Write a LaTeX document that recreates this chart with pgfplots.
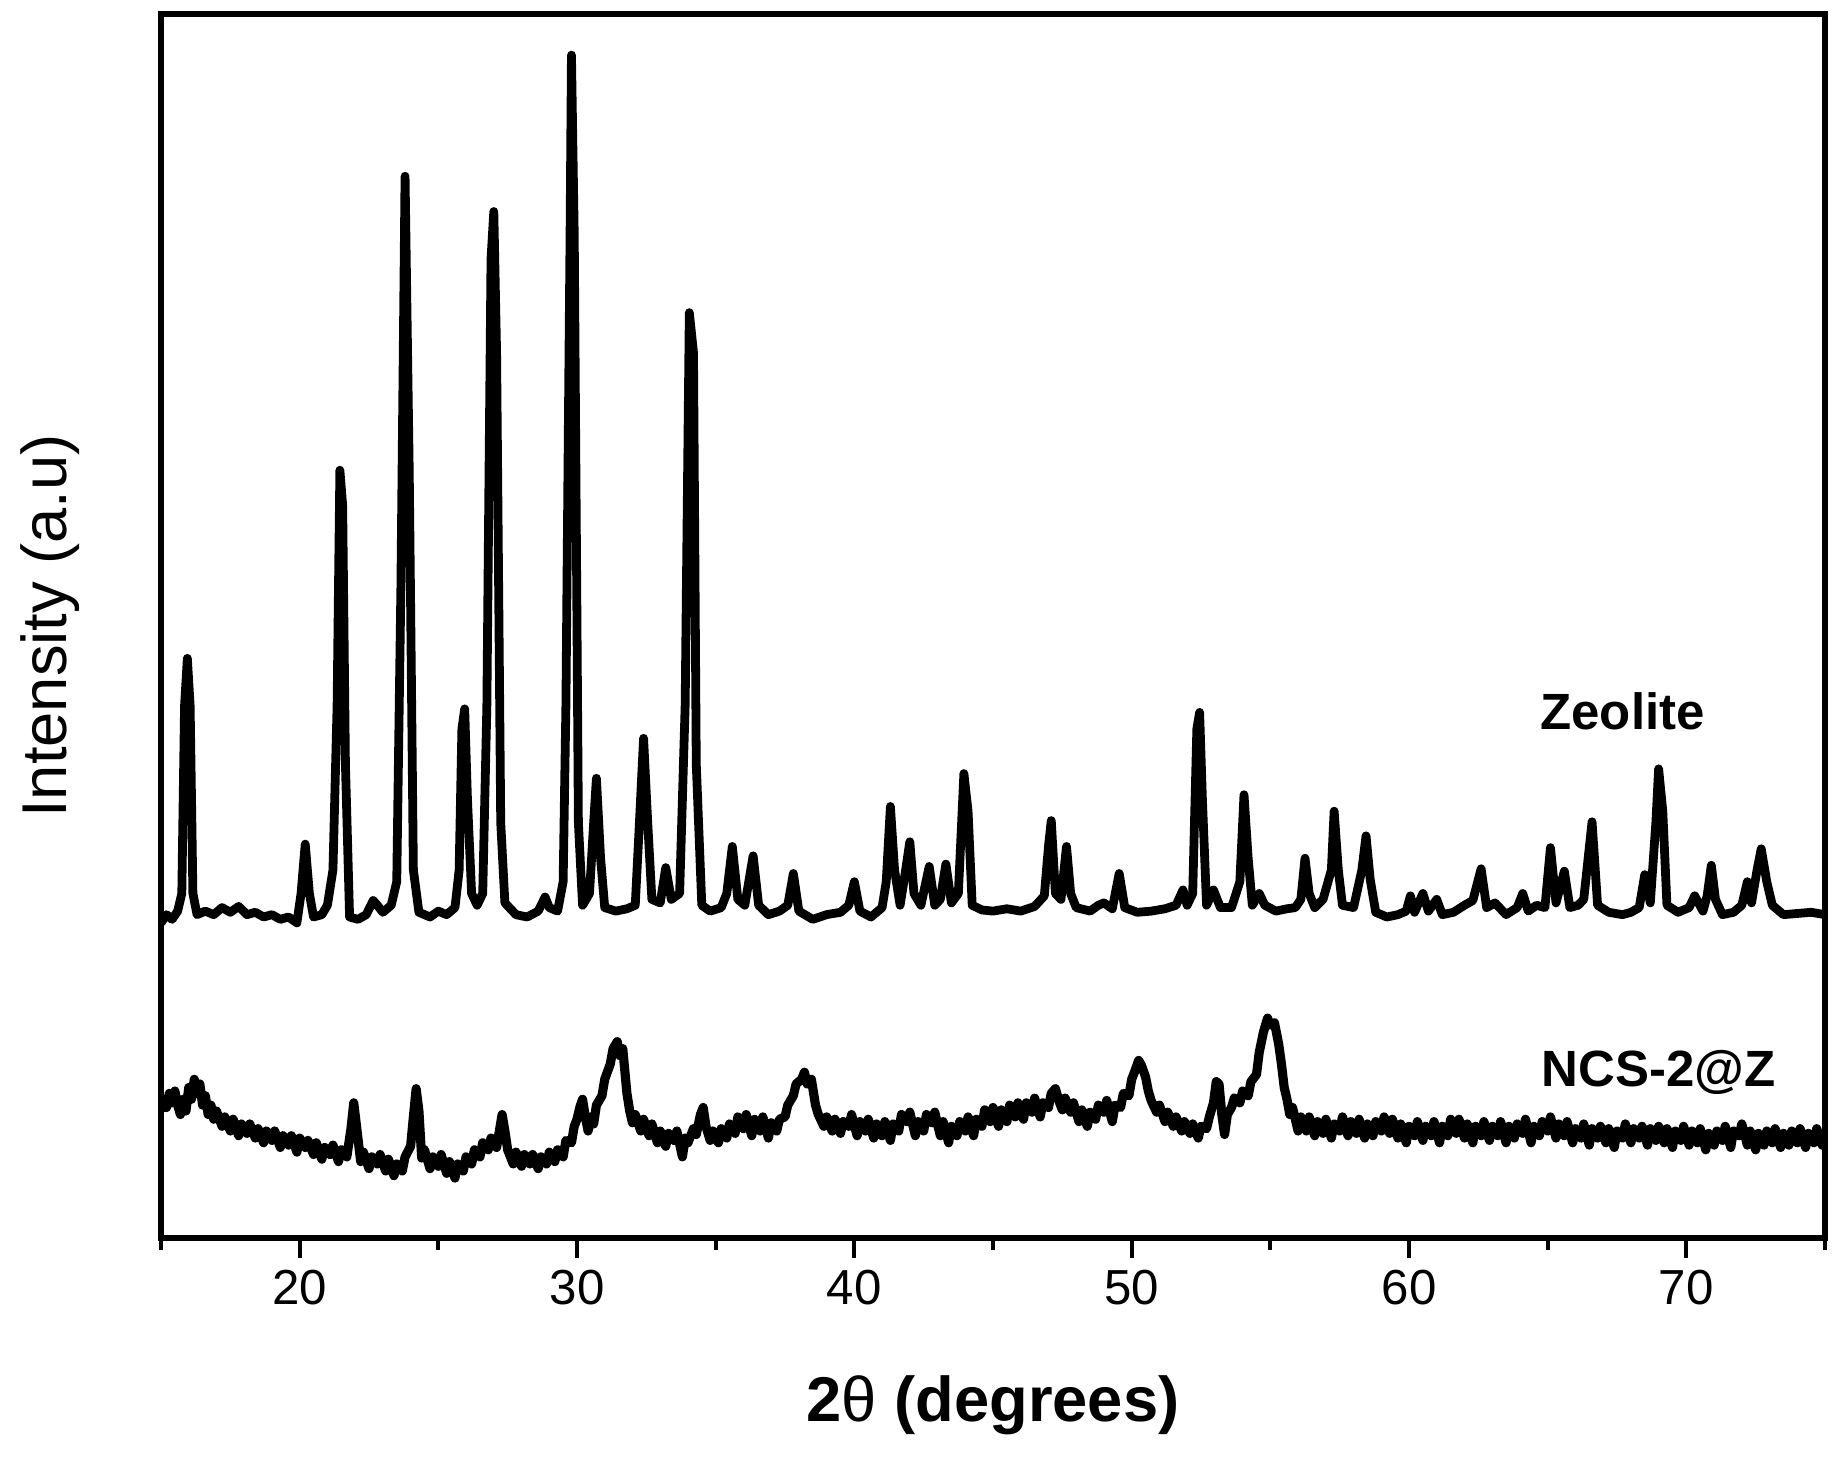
\documentclass[border=0pt]{standalone}
\usepackage{pgfplots}
\pgfplotsset{compat=1.18}
\usepackage{pgfplotstable}
\usepackage{fontspec}
\setmainfont{Liberation Sans}
\pgfplotstableread{
x y
15.0 785
15.2 778
15.4 782
15.6 775
15.75 760
15.85 600
15.95 560
16.05 600
16.15 760
16.3 778
16.6 775
16.9 778
17.2 772
17.5 776
17.8 771
18.1 778
18.4 776
18.7 780
19.0 778
19.3 782
19.6 780
19.9 785
20.05 760
20.2 718
20.35 760
20.5 780
20.8 778
21.0 770
21.2 740
21.35 600
21.45 400
21.55 430
21.65 650
21.8 780
22.1 782
22.4 778
22.65 766
22.8 770
23.0 776
23.3 770
23.5 750
23.65 500
23.8 150
23.95 400
24.1 740
24.3 776
24.7 780
25.0 775
25.3 778
25.6 772
25.75 740
25.85 620
25.95 603
26.05 680
26.2 760
26.4 770
26.6 760
26.75 600
26.9 220
27.0 180
27.1 300
27.25 700
27.4 768
27.8 778
28.2 780
28.6 775
28.85 763
29.0 772
29.3 775
29.5 750
29.6 600
29.75 200
29.8 47
29.9 200
30.05 700
30.2 770
30.45 760
30.6 700
30.7 662
30.85 730
31.0 772
31.4 775
31.8 773
32.1 770
32.25 700
32.4 628
32.55 700
32.7 765
33.0 768
33.2 738
33.4 765
33.7 760
33.9 600
34.05 266
34.2 300
34.3 650
34.5 770
34.8 775
35.2 772
35.4 760
35.6 720
35.8 765
36.05 770
36.35 728
36.55 770
36.9 778
37.3 775
37.6 770
37.8 743
38.0 775
38.5 782
39.0 778
39.5 776
39.8 770
40.0 750
40.2 775
40.6 780
41.0 772
41.15 750
41.3 686
41.45 740
41.65 770
41.85 740
42.0 716
42.15 760
42.4 770
42.7 737
42.9 770
43.1 765
43.3 735
43.5 768
43.75 760
43.95 658
44.1 690
44.25 770
44.6 774
45.0 775
45.5 773
46.0 775
46.5 771
46.85 762
47.0 720
47.1 698
47.25 760
47.45 765
47.65 720
47.8 760
48.0 772
48.5 775
48.8 770
49.0 768
49.3 773
49.55 743
49.75 772
50.2 776
50.7 775
51.2 773
51.6 770
51.85 757
52.0 770
52.2 760
52.35 620
52.45 606
52.55 680
52.7 770
52.95 757
53.2 772
53.6 772
53.9 750
54.05 676
54.2 730
54.35 770
54.6 760
54.8 770
55.2 775
55.6 773
55.9 772
56.1 765
56.25 730
56.4 760
56.6 772
56.9 765
57.2 740
57.3 690
57.45 740
57.6 770
58.0 772
58.3 740
58.45 711
58.6 748
58.8 776
59.2 780
59.6 778
59.9 775
60.05 762
60.2 776
60.5 760
60.7 775
61.0 765
61.2 778
61.6 776
62.0 770
62.3 766
62.6 739
62.8 772
63.1 768
63.5 778
63.9 772
64.1 760
64.3 775
64.6 770
64.9 772
65.1 721
65.3 768
65.6 741
65.8 772
66.1 770
66.3 765
66.6 699
66.8 770
67.2 776
67.7 778
68.0 776
68.3 772
68.5 744
68.7 768
68.9 700
69.0 654
69.15 690
69.3 770
69.7 776
70.1 772
70.3 762
70.6 775
70.75 762
70.9 736
71.05 765
71.3 778
71.7 776
72.0 770
72.2 750
72.35 768
72.55 740
72.7 722
72.9 750
73.1 770
73.5 778
74.0 777
74.5 776
75.0 778
}\zeolite
\pgfplotstableread{
x y
15.0 945
15.1 935
15.2 942
15.3 930
15.4 938
15.5 928
15.6 940
15.7 948
15.8 935
15.9 945
16.0 925
16.1 935
16.2 918
16.3 930
16.4 922
16.5 940
16.6 932
16.7 948
16.8 940
16.9 952
17.0 945
17.2 958
17.3 950
17.5 962
17.6 952
17.8 966
17.9 956
18.1 964
18.2 956
18.4 968
18.5 960
18.7 972
18.8 962
19.0 970
19.1 962
19.3 976
19.4 966
19.6 974
19.7 966
19.9 980
20.0 968
20.2 976
20.3 970
20.5 982
20.6 972
20.8 986
20.9 976
21.1 982
21.2 974
21.4 988
21.5 978
21.7 984
21.85 960
21.95 938
22.1 968
22.2 988
22.3 980
22.5 994
22.6 984
22.8 990
22.9 982
23.1 996
23.2 986
23.4 1000
23.5 990
23.7 996
23.8 984
24.0 975
24.1 950
24.2 926
24.3 945
24.4 985
24.5 978
24.7 994
24.8 984
25.0 992
25.1 982
25.3 998
25.4 988
25.6 1002
25.7 990
25.9 996
26.0 984
26.2 990
26.3 978
26.5 984
26.6 972
26.8 978
26.9 968
27.1 976
27.2 962
27.3 948
27.4 962
27.5 978
27.7 990
27.8 980
28.0 992
28.1 982
28.3 990
28.4 982
28.6 994
28.7 984
28.9 990
29.0 980
29.2 988
29.3 978
29.5 984
29.6 970
29.8 972
29.9 958
30.0 952
30.1 942
30.2 935
30.3 950
30.4 962
30.5 950
30.6 956
30.7 940
30.9 932
31.0 918
31.2 905
31.3 892
31.45 886
31.55 898
31.65 892
31.8 930
31.9 945
32.0 955
32.1 948
32.3 962
32.4 952
32.6 966
32.7 956
32.9 972
33.0 962
33.2 975
33.3 964
33.5 970
33.6 962
33.8 984
33.9 968
34.0 972
34.2 960
34.3 965
34.45 948
34.55 942
34.65 958
34.8 970
34.9 962
35.1 972
35.2 960
35.4 968
35.5 956
35.7 964
35.8 950
36.0 960
36.1 948
36.3 966
36.4 952
36.6 962
36.7 950
36.9 968
37.0 955
37.2 962
37.3 952
37.5 950
37.6 940
37.8 932
37.9 922
38.1 918
38.2 912
38.3 922
38.45 918
38.6 940
38.7 948
38.9 958
39.0 950
39.2 962
39.3 952
39.5 964
39.6 954
39.8 958
39.9 948
40.1 966
40.2 954
40.4 962
40.5 952
40.7 968
40.8 956
41.0 966
41.1 954
41.3 970
41.4 956
41.6 962
41.7 948
41.9 954
42.0 946
42.2 966
42.3 954
42.5 962
42.6 948
42.8 955
42.9 946
43.1 966
43.2 954
43.4 972
43.5 958
43.7 966
43.8 954
44.0 962
44.1 950
44.3 966
44.4 952
44.6 958
44.7 944
44.9 954
45.0 942
45.2 958
45.3 944
45.5 954
45.6 940
45.8 950
45.9 938
46.1 952
46.2 938
46.4 946
46.5 934
46.7 950
46.8 938
47.0 942
47.1 930
47.25 926
47.4 938
47.5 944
47.6 934
47.8 946
47.9 938
48.1 954
48.2 944
48.4 958
48.5 946
48.7 952
48.8 940
49.0 946
49.1 936
49.3 954
49.4 940
49.6 942
49.7 930
49.9 932
50.0 918
50.1 912
50.25 902
50.35 906
50.5 916
50.6 928
50.7 936
50.9 946
51.0 940
51.2 954
51.3 946
51.5 958
51.6 950
51.8 962
51.9 954
52.1 964
52.2 956
52.4 968
52.5 958
52.7 960
52.8 950
52.95 938
53.05 920
53.15 922
53.25 948
53.35 965
53.45 948
53.6 942
53.7 934
53.9 938
54.0 928
54.2 932
54.3 920
54.5 914
54.6 895
54.75 878
54.9 866
55.0 872
55.15 870
55.3 888
55.4 905
55.5 925
55.6 935
55.7 948
55.8 942
56.0 962
56.1 950
56.3 962
56.4 950
56.6 966
56.7 954
56.9 964
57.0 952
57.2 968
57.3 956
57.5 962
57.6 950
57.8 966
57.9 954
58.1 964
58.2 952
58.4 968
58.5 956
58.7 966
58.8 954
59.0 962
59.1 950
59.3 964
59.4 952
59.6 968
59.7 956
59.9 972
60.0 958
60.2 966
60.3 954
60.5 970
60.6 958
60.8 966
60.9 954
61.1 972
61.2 958
61.4 966
61.5 952
61.7 964
61.8 952
62.0 968
62.1 956
62.3 972
62.4 958
62.6 966
62.7 954
62.9 970
63.0 958
63.2 966
63.3 954
63.5 972
63.6 958
63.8 968
63.9 956
64.1 964
64.2 952
64.4 972
64.5 958
64.7 966
64.8 954
65.0 962
65.1 950
65.3 968
65.4 956
65.6 966
65.7 954
65.9 972
66.0 960
66.2 968
66.3 956
66.5 974
66.6 960
66.8 968
66.9 958
67.1 972
67.2 960
67.4 976
67.5 962
67.7 968
67.8 956
68.0 972
68.1 960
68.3 968
68.4 958
68.6 974
68.7 960
68.9 970
69.0 958
69.2 972
69.3 960
69.5 976
69.6 962
69.8 970
69.9 958
70.1 974
70.2 962
70.4 972
70.5 960
70.7 978
70.8 964
71.0 974
71.1 962
71.3 970
71.4 958
71.6 976
71.7 962
71.9 966
72.0 956
72.2 974
72.3 962
72.5 978
72.6 964
72.8 974
72.9 962
73.1 972
73.2 960
73.4 976
73.5 964
73.7 974
73.8 962
74.0 972
74.1 960
74.3 976
74.4 964
74.6 972
74.7 960
74.9 974
75.0 970
}\ncs
\begin{document}
\begin{tikzpicture}
\begin{axis}[
  scale only axis,
  width=16.64cm, height=12.24cm,
  xmin=15, xmax=75, ymin=0, ymax=1041,
  axis line style={line width=1.6pt},
  xtick={20,30,40,50,60,70},
  minor xtick={15,25,35,45,55,65,75},
  ytick=\empty,
  xtick pos=bottom,
  tick align=outside,
  major tick length=0.2cm,
  minor tick length=0.12cm,
  every tick/.style={black, line width=1.2pt},
  /pgf/number format/assume math mode=true,
  xticklabel style={font=\fontsize{14}{16}\selectfont},
  xlabel={\fontsize{18}{21}\selectfont\bfseries 2{\mdseries θ} (degrees)},
  ylabel={\fontsize{18}{21}\selectfont Intensity (a.u)},
  xlabel style={at={(axis description cs:0.5,0)}, anchor=center, yshift=-1.67cm},
  ylabel style={at={(axis description cs:0,0.5)}, anchor=center, yshift=1.11cm},
  clip=true,
]
\addplot[black, line width=2.5pt, line join=round] table[x=x, y expr=1053-\thisrow{y}] {\zeolite};
\addplot[black, line width=2.6pt, line join=round] table[x=x, y expr=1053-\thisrow{y}] {\ncs};
\node[font=\fontsize{14.5}{17}\selectfont\bfseries] at (axis cs:67.7,448) {Zeolite};
\node[font=\fontsize{14.5}{17}\selectfont\bfseries] at (axis cs:69.0,141) {NCS-2@Z};
\coordinate (bl) at (rel axis cs:0,0);
\coordinate (tr) at (rel axis cs:1,1);
\end{axis}
\pgfresetboundingbox
\path ([shift={(-1.61cm,-2.21cm)}]bl) rectangle ([shift={(0.19cm,0.14cm)}]tr);
\end{tikzpicture}
\end{document}
